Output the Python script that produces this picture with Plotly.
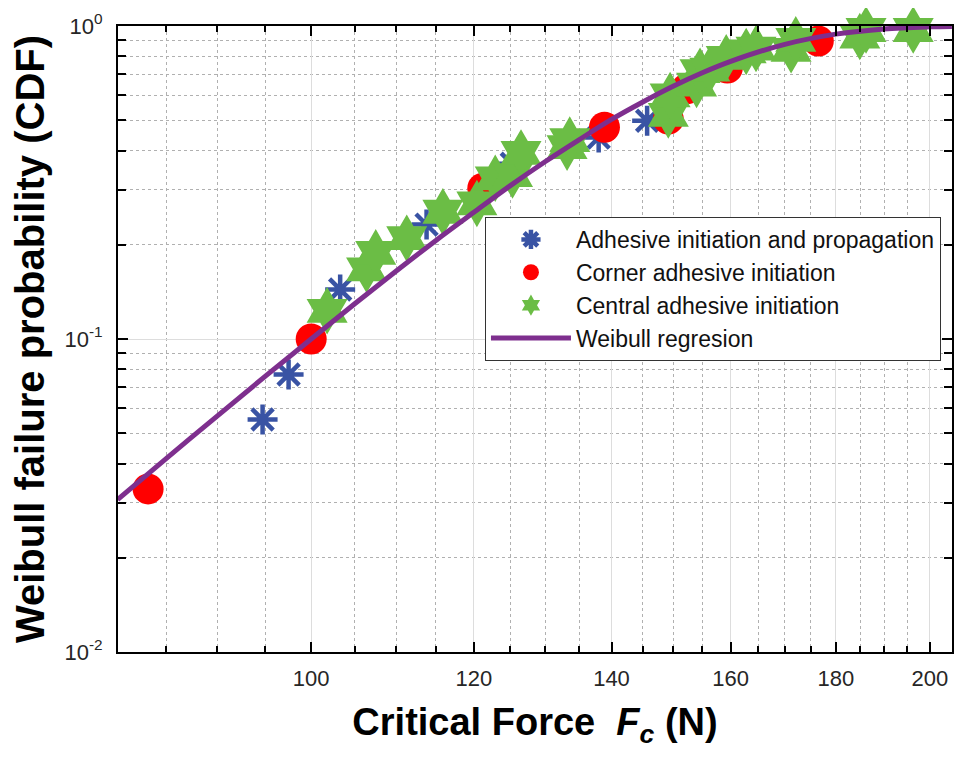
import plotly.graph_objects as go

# ---- data ----
prop_force = [80.3, 94.7, 97.5, 103.3, 113.8, 125.2, 138.0, 145.7]
prop_cdf = [0.0112, 0.0553, 0.077, 0.144, 0.232, 0.363, 0.44, 0.498]

corner_force = [83.3, 100.0, 121.2, 138.9, 149.2, 149.6, 152.3, 159.4, 176.5]
corner_cdf = [0.0332, 0.100, 0.303, 0.475, 0.504, 0.583, 0.630, 0.734, 0.896]

central_force = [101.8, 106.4, 107.5, 111.3, 115.9, 120.4, 122.9, 125.3, 126.5,
                 133.2, 133.6, 149.2, 149.5, 154.0, 154.6, 156.3, 159.2, 162.8,
                 164.6, 171.2, 172.1, 184.9, 186.2, 196.3, 205.2]
central_cdf = [0.123, 0.167, 0.1885, 0.210, 0.255, 0.271, 0.326, 0.334, 0.393,
               0.410, 0.432, 0.52, 0.60, 0.650, 0.717, 0.726, 0.791, 0.829,
               0.847, 0.839, 0.903, 0.925, 0.971, 0.971, 0.977]

weibull_force = [80.5, 85, 90, 95, 100, 105, 110, 115, 120, 125, 130, 135, 140,
                 145, 150, 155, 160, 170, 180, 190, 200, 205]
weibull_cdf = [0.0307, 0.0415, 0.0567, 0.0761, 0.100, 0.1296, 0.1649, 0.2065,
               0.254, 0.309, 0.369, 0.433, 0.503, 0.572, 0.642, 0.709, 0.771,
               0.874, 0.942, 0.979, 0.994, 0.997]

x_ticks = [100, 120, 140, 160, 180, 200]
x_ticklabels = ["100", "120", "140", "160", "180", "200"]
x_minor = [85, 90, 95, 105, 110, 115, 125, 130, 135, 145, 150, 155, 165, 170,
           175, 185, 190, 195, 205]
y_ticks = [0.01, 0.1, 1]
y_ticklabels = ["10<sup>-2</sup>", "10<sup>-1</sup>", "10<sup>0</sup>"]
y_minor = [0.02, 0.03, 0.04, 0.05, 0.06, 0.07, 0.08, 0.09,
           0.2, 0.3, 0.4, 0.5, 0.6, 0.7, 0.8, 0.9]

FONT = "Liberation Sans, Arial, sans-serif"

fig = go.Figure()
fig.add_trace(go.Scatter(
    x=prop_force, y=prop_cdf, mode="markers", name="Adhesive initiation and propagation",
    marker=dict(symbol="asterisk-open", size=25, color="#3953A4",
                line=dict(color="#3953A4", width=4.5)),
    cliponaxis=False, legendgroup="a"))
fig.add_trace(go.Scatter(
    x=corner_force, y=corner_cdf, mode="markers", name="Corner adhesive initiation",
    marker=dict(symbol="circle", size=31, color="#FF0000", line=dict(width=0)),
    cliponaxis=False, legendgroup="b"))
fig.add_trace(go.Scatter(
    x=central_force, y=central_cdf, mode="markers", name="Central adhesive initiation",
    marker=dict(symbol="hexagram", size=36, color="#6BBD45", line=dict(width=0)),
    cliponaxis=False, legendgroup="c"))
fig.add_trace(go.Scatter(
    x=weibull_force, y=weibull_cdf, mode="lines", name="Weibull regresion",
    line=dict(color="#7E2F8E", width=5, shape="spline"),
    cliponaxis=True, legendgroup="d"))

tickfont = dict(family=FONT, size=22, color="#262626")
# page body has an 8px default margin, so the figure is offset by 8px
fig.update_layout(
    width=958, height=753,
    margin=dict(l=110, r=14, t=18, b=109),
    paper_bgcolor="white", plot_bgcolor="white",
    showlegend=True,
    legend=dict(x=0.44, y=0.695, xanchor="left", yanchor="top",
                bgcolor="white", bordercolor="#333333", borderwidth=1,
                font=dict(family=FONT, size=23, color="#111111"),
                itemsizing="trace", tracegroupgap=0, itemwidth=80),
    xaxis=dict(
        type="log", range=[1.9060, 2.3118], automargin=False,
        tickmode="array", tickvals=x_ticks, ticktext=x_ticklabels,
        tickfont=tickfont, ticks="inside", ticklen=10, tickwidth=2, tickcolor="black",
        ticklabelstandoff=6, ticklabeloverflow="allow",
        showline=True, linecolor="black", linewidth=2, mirror="ticks",
        showgrid=True, gridcolor="#DDDDDD", gridwidth=1,
        zeroline=False,
        minor=dict(tickmode="array", tickvals=x_minor, ticks="inside", ticklen=6,
                   tickwidth=1.5, tickcolor="black", showgrid=True,
                   gridcolor="#B0B0B0", griddash="dot", gridwidth=1),
        title=dict(text="<b>Critical Force  <i>F</i><sub><i>c</i></sub> (N)</b>",
                   font=dict(family=FONT, size=38, color="black"),
                   standoff=18),
    ),
    yaxis=dict(
        type="log", range=[-2, 0], automargin=False,
        tickmode="array", tickvals=y_ticks, ticktext=y_ticklabels,
        tickfont=tickfont, ticks="inside", ticklen=10, tickwidth=2, tickcolor="black",
        ticklabelstandoff=9, ticklabeloverflow="allow",
        showline=True, linecolor="black", linewidth=2, mirror="ticks",
        showgrid=True, gridcolor="#DDDDDD", gridwidth=1,
        zeroline=False,
        minor=dict(tickmode="array", tickvals=y_minor, ticks="inside", ticklen=8,
                   tickwidth=1.5, tickcolor="black", showgrid=True,
                   gridcolor="#B0B0B0", griddash="dot", gridwidth=1),
        title=dict(text="<b>Weibull failure probability (CDF)</b>",
                   font=dict(family=FONT, size=40, color="black"),
                   standoff=12),
    ),
)

fig.write_html("out.html")
